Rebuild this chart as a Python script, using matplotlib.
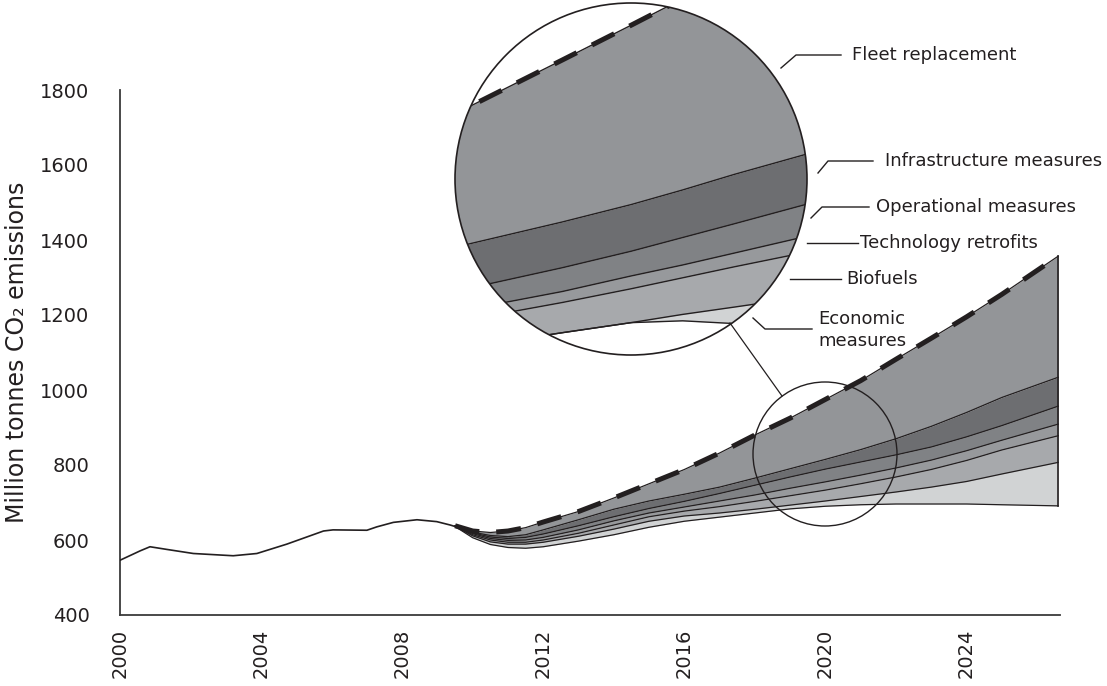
import numpy as np
import matplotlib.pyplot as plt
from matplotlib.patches import Circle
from matplotlib.lines import Line2D

# ---- data (Mt CO2) ----
hist_years = [2000.0, 2000.57, 2000.85, 2001.32, 2002.08, 2003.21, 2003.88, 2004.73,
              2005.77, 2006.04, 2007.0, 2007.28, 2007.75, 2008.42, 2008.98, 2009.36, 2009.5]
hist_vals = [546, 571, 582, 575, 564, 558, 564, 589, 624, 627, 626, 635, 647, 654, 649, 640, 636]

years = [2009.5, 2010, 2010.5, 2011, 2011.5, 2012, 2013, 2014, 2015, 2016, 2017, 2018,
         2019, 2020, 2021, 2022, 2023, 2024, 2025, 2026.6]
baseline = [638, 624, 620, 624, 633, 648, 676, 712, 750, 788, 832, 880, 925, 975, 1025,
            1082, 1138, 1195, 1255, 1357]
infra_top = [637.5, 621, 612, 609, 614, 627, 654, 682, 704, 722, 741, 765, 790, 815, 841,
             870, 903, 940, 980, 1034]
oper_top = [637, 619, 608, 604, 607, 616, 638, 662, 684, 703, 724, 746, 768, 789, 808,
            827, 848, 875, 905, 957]
tech_top = [637, 617, 604, 599, 600, 607, 627, 651, 672, 688, 704, 720, 738, 755, 773,
            792, 813, 838, 866, 909]
bio_top = [636.5, 614, 600, 594, 594, 600, 618, 640, 662, 677, 689, 703, 718, 733, 750,
           768, 788, 812, 840, 878]
econ_top = [636, 611, 595, 589, 589, 594, 610, 629, 650, 664, 672, 682, 693, 704, 716,
            728, 741, 756, 776, 807]
final = [636, 606, 588, 580, 578, 582, 597, 614, 634, 650, 661, 672, 683, 690, 694,
         696, 696, 696, 694, 691]

# magnified view drawn in the big circle
zoom_years = [2017.8, 2019.2, 2020.0, 2020.6, 2021.2, 2022.3]
zoom_baseline = [894, 960, 998, 1027, 1055, 1107]
zoom_infra = [752, 783, 802, 818, 835, 864]
zoom_oper = [704, 733, 751, 766, 781, 809]
zoom_tech = [682, 707, 724, 736, 749, 773]
zoom_bio = [671, 695, 710, 722, 734, 755]
zoom_econ = [642, 662, 673, 682, 690, 705]
zoom_final = [642, 662, 673, 675, 672, 667]

band_names = ["Economic\nmeasures", "Biofuels", "Technology retrofits",
              "Operational measures", "Infrastructure measures", "Fleet replacement"]
band_colors = ["#d1d3d4", "#a7a9ac", "#97999c", "#808285", "#6d6e71", "#939598"]

W, H = 1107, 686


def fx(x):
    return x / W


def fy(y):
    return 1 - y / H


fig = plt.figure(figsize=(W / 100, H / 100), dpi=100)
ax = fig.add_axes([fx(120), fy(615), fx(940), 525 / H])


def draw_bands(a, xs, layers, top, lw=0.9):
    for i in range(len(layers) - 1):
        a.fill_between(xs, layers[i], layers[i + 1], color=band_colors[i], lw=0, zorder=2)
    a.fill_between(xs, layers[-1], top, color=band_colors[-1], lw=0, zorder=2)
    for l in layers:
        a.plot(xs, l, color="#231f20", lw=lw, zorder=3)
    a.plot(xs, top, color="#231f20", lw=lw, zorder=3)
    a.plot(xs, top, color="#231f20", lw=3.6, dashes=(5, 3.4), zorder=4,
           dash_capstyle="butt")


ax.plot(hist_years, hist_vals, color="#231f20", lw=1.2, zorder=3)
draw_bands(ax, years, [final, econ_top, bio_top, tech_top, oper_top, infra_top], baseline)
ax.plot([years[-1], years[-1]], [final[-1], baseline[-1]], color="#231f20", lw=1.2, zorder=3)

ax.set_xlim(2000, 2026.65)
ax.set_ylim(400, 1800)
ax.set_xticks(range(2000, 2025, 4))
ax.set_yticks(range(400, 1801, 200))
ax.tick_params(length=0, labelsize=14, colors="#231f20")
ax.tick_params(axis="x", rotation=90, pad=10)
ax.tick_params(axis="y", pad=22)
for s in ["top", "right"]:
    ax.spines[s].set_visible(False)
for s in ["left", "bottom"]:
    ax.spines[s].set_color("#3a3a3a")
    ax.spines[s].set_linewidth(1.3)
ax.set_ylabel("Million tonnes CO\u2082 emissions", fontsize=17, color="#231f20", labelpad=8)

# small circle marking the zoomed area (pixel coords, saved at the same dpi)
fig.add_artist(plt.Circle((825, H - 454), 72, transform=None, fill=False,
                          ec="#231f20", lw=1.0, zorder=5))

# connector
fig.add_artist(Line2D([fx(730), fx(782)], [fy(323), fy(396)], color="#231f20", lw=0.9))

# big circle inset
r = 176
axi = fig.add_axes([fx(631 - r), fy(179 + r), fx(2 * r), 2 * r / H])
axi.set_xlim(2020 - r / 86.0, 2020 + r / 86.0)
axi.set_ylim(830 - r / 0.915, 830 + r / 0.915)
axi.axis("off")
axi.add_patch(Circle((0.5, 0.5), 0.5, transform=axi.transAxes, color="white", zorder=0))
draw_bands(axi, zoom_years, [zoom_final, zoom_econ, zoom_bio, zoom_tech, zoom_oper, zoom_infra],
           zoom_baseline, lw=1.0)
clip = Circle((0.5, 0.5), 0.5, transform=axi.transAxes)
for art in axi.collections + axi.lines:
    art.set_clip_path(clip)
axi.add_patch(Circle((0.5, 0.5), 0.5, transform=axi.transAxes, fill=False, ec="#231f20",
                     lw=1.2, zorder=6, clip_on=False))

# labels with leader lines (figure pixels)
leaders = [
    [(781, 68), (796, 55), (841, 55)],
    [(818, 173), (828, 161), (873, 161)],
    [(811, 218), (822, 207), (869, 207)],
    [(807, 243), (858, 243)],
    [(790, 279), (841, 279)],
    [(753, 318), (765, 329), (812, 329)],
]
text_pos = [(852, 55), (885, 161), (876, 207), (860, 243), (846, 279), (818, 330)]
for name, pts, tpos in zip(band_names[::-1], leaders, text_pos):
    fig.add_artist(Line2D([fx(p[0]) for p in pts], [fy(p[1]) for p in pts],
                          color="#231f20", lw=1.0))
    fig.text(fx(tpos[0]), fy(tpos[1]), name, fontsize=13, color="#231f20",
             ha="left", va="center", linespacing=1.25)

fig.savefig("out.png", dpi=100)
